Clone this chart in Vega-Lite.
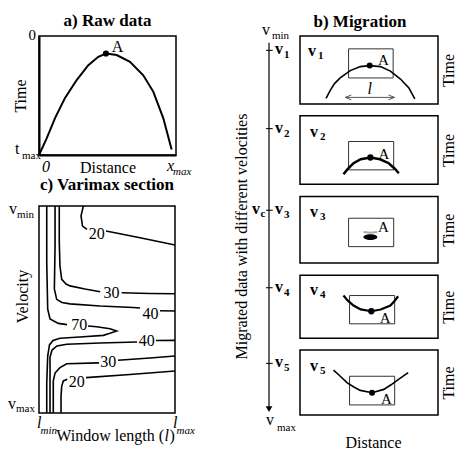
{
  "$schema": "https://vega.github.io/schema/vega-lite/v6.json",
  "background": "white",
  "padding": {"left": 7, "top": 11, "right": 2, "bottom": 2},
  "bounds": "flush",
  "spacing": 225,
  "config": {
    "font": "Liberation Serif",
    "view": {"stroke": "black", "strokeWidth": 1.5},
    "axis": {"grid": false, "ticks": false, "labels": false, "domain": false, "titleFontSize": 16, "titleFontWeight": "normal", "titleColor": "black"},
    "title": {"fontSize": 17, "fontWeight": "bold", "color": "black", "frame": "group", "anchor": "middle", "baseline": "alphabetic"},
    "text": {"color": "black", "fontSize": 16},
    "point": {"opacity": 1}
  },
  "hconcat": [
    {
      "bounds": "flush",
      "spacing": 51,
      "vconcat": [
        {
          "width": 137, "height": 119,
          "title": {"text": "a) Raw data", "offset": -2},
          "encoding": {
            "x": {"field": "d", "type": "quantitative", "scale": {"domain": [0, 1], "nice": false}, "axis": {"title": "Distance", "domain": true, "domainWidth": 2, "domainColor": "black", "titlePadding": 4}},
            "y": {"field": "t", "type": "quantitative", "scale": {"domain": [0, 1], "reverse": true, "nice": false}, "axis": {"title": "Time", "domain": true, "domainWidth": 2, "domainColor": "black", "titlePadding": 11}}
          },
          "layer": [
            {"data": {"values": [{"d":0,"t":1},{"d":0.056,"t":0.86},{"d":0.117,"t":0.69},{"d":0.19,"t":0.52},{"d":0.275,"t":0.37},{"d":0.36,"t":0.245},{"d":0.433,"t":0.175},{"d":0.489,"t":0.147},{"d":0.567,"t":0.16},{"d":0.664,"t":0.217},{"d":0.761,"t":0.33},{"d":0.834,"t":0.467},{"d":0.907,"t":0.69},{"d":0.968,"t":0.953}]},
             "mark": {"type": "line", "color": "black", "strokeWidth": 2}},
            {"data": {"values": [{"d": 0.489, "t": 0.147}]}, "mark": {"type": "point", "filled": true, "color": "black", "size": 38}},
            {"data": {"values": [{"d": 0.573, "t": 0.089, "s": "A"}]}, "mark": {"type": "text", "align": "center", "baseline": "middle"}, "encoding": {"text": {"field": "s"}}},
            {"data": {"values": [{"d": 0, "t": 0, "s": "0"}]}, "mark": {"type": "text", "align": "right", "baseline": "alphabetic", "dx": -3, "dy": 4, "fontSize": 15}, "encoding": {"text": {"field": "s"}}},
            {"data": {"values": [{"d": 0, "t": 1, "s": "t"}]}, "mark": {"type": "text", "align": "left", "baseline": "alphabetic", "dx": -24, "dy": -1}, "encoding": {"text": {"field": "s"}}},
            {"data": {"values": [{"d": 0, "t": 1, "s": "max"}]}, "mark": {"type": "text", "align": "left", "baseline": "alphabetic", "dx": -17, "dy": 4, "fontSize": 11}, "encoding": {"text": {"field": "s"}}},
            {"data": {"values": [{"d": 0, "t": 1, "s": "0"}]}, "mark": {"type": "text", "align": "left", "baseline": "alphabetic", "dx": 3, "dy": 17, "fontStyle": "italic"}, "encoding": {"text": {"field": "s"}}},
            {"data": {"values": [{"d": 1, "t": 1, "s": "x"}]}, "mark": {"type": "text", "align": "left", "baseline": "alphabetic", "dx": -9, "dy": 16, "fontStyle": "italic"}, "encoding": {"text": {"field": "s"}}},
            {"data": {"values": [{"d": 1, "t": 1, "s": "max"}]}, "mark": {"type": "text", "align": "left", "baseline": "alphabetic", "dx": -3, "dy": 20, "fontStyle": "italic", "fontSize": 11}, "encoding": {"text": {"field": "s"}}}
          ]
        },
        {
          "width": 136, "height": 207,
          "title": {"text": "c) Varimax section", "offset": 7},
          "encoding": {
            "x": {"field": "x", "type": "quantitative", "scale": {"domain": [0, 100], "nice": false}, "axis": null},
            "y": {"field": "y", "type": "quantitative", "scale": {"domain": [0, 100], "reverse": true, "nice": false}, "axis": {"title": "Velocity", "titlePadding": 9, "titleY": 90}}
          },
          "layer": [
            {"data": {"values": [
              {"s":"70a","i":0,"x":5.7,"y":0},{"s":"70a","i":1,"x":5.7,"y":27.5},{"s":"70a","i":2,"x":6.4,"y":49.8},{"s":"70a","i":3,"x":8.1,"y":54.6},{"s":"70a","i":4,"x":14.2,"y":56.7},{"s":"70a","i":5,"x":20.6,"y":57.3},
              {"s":"70b","i":0,"x":36.0,"y":58.0},{"s":"70b","i":1,"x":42.4,"y":58.3},{"s":"70b","i":2,"x":52.2,"y":59.3},{"s":"70b","i":3,"x":57.1,"y":60.4},{"s":"70b","i":4,"x":52.2,"y":61.5},{"s":"70b","i":5,"x":47.3,"y":62.5},{"s":"70b","i":6,"x":30.1,"y":63.3},{"s":"70b","i":7,"x":15.4,"y":63.9},{"s":"70b","i":8,"x":10.3,"y":65.0},{"s":"70b","i":9,"x":7.7,"y":67.1},{"s":"70b","i":10,"x":6.4,"y":72.5},{"s":"70b","i":11,"x":5.7,"y":85.4},{"s":"70b","i":12,"x":5.7,"y":100},
              {"s":"40a","i":0,"x":11.8,"y":0},{"s":"40a","i":1,"x":11.8,"y":19.3},{"s":"40a","i":2,"x":11.3,"y":40.1},{"s":"40a","i":3,"x":13.0,"y":45.1},{"s":"40a","i":4,"x":16.9,"y":46.6},{"s":"40a","i":5,"x":22.8,"y":47.3},{"s":"40a","i":6,"x":44.9,"y":48.3},{"s":"40a","i":7,"x":69.3,"y":49.0},{"s":"40a","i":8,"x":74.3,"y":49.3},
              {"s":"40b","i":0,"x":89.0,"y":50.6},{"s":"40b","i":1,"x":100,"y":50.7},
              {"s":"30a","i":0,"x":14.9,"y":0},{"s":"30a","i":1,"x":14.9,"y":16.9},{"s":"30a","i":2,"x":15.4,"y":29},{"s":"30a","i":3,"x":16.7,"y":35.4},{"s":"30a","i":4,"x":19.9,"y":37.7},{"s":"30a","i":5,"x":22.8,"y":38.6},{"s":"30a","i":6,"x":33.8,"y":40.1},{"s":"30a","i":7,"x":45,"y":41.4},
              {"s":"30b","i":0,"x":60.8,"y":41.9},{"s":"30b","i":1,"x":81.6,"y":42.3},{"s":"30b","i":2,"x":100,"y":42.4},
              {"s":"20a","i":0,"x":32.6,"y":0},{"s":"20a","i":1,"x":30.9,"y":4.8},{"s":"20a","i":2,"x":32.0,"y":9.7},{"s":"20a","i":3,"x":35.3,"y":11.3},
              {"s":"20b","i":0,"x":49.3,"y":12.1},{"s":"20b","i":1,"x":74.3,"y":15.3},{"s":"20b","i":2,"x":100,"y":18.8},
              {"s":"40c","i":0,"x":100,"y":64.9},{"s":"40c","i":1,"x":86.0,"y":65.0},
              {"s":"40d","i":0,"x":72.1,"y":65.7},{"s":"40d","i":1,"x":44.9,"y":66.2},{"s":"40d","i":2,"x":20.4,"y":66.8},{"s":"40d","i":3,"x":13.2,"y":67.6},{"s":"40d","i":4,"x":9.6,"y":69.6},{"s":"40d","i":5,"x":8.1,"y":72.9},{"s":"40d","i":6,"x":8.1,"y":84.5},{"s":"40d","i":7,"x":8.1,"y":100},
              {"s":"30c","i":0,"x":100,"y":72.5},{"s":"30c","i":1,"x":81.6,"y":73.4},{"s":"30c","i":2,"x":58.1,"y":74.5},
              {"s":"30d","i":0,"x":44.1,"y":75.8},{"s":"30d","i":1,"x":20.4,"y":76.2},{"s":"30d","i":2,"x":15.4,"y":78.1},{"s":"30d","i":3,"x":11.8,"y":80.7},{"s":"30d","i":4,"x":10.5,"y":84.5},{"s":"30d","i":5,"x":10.5,"y":100},
              {"s":"20c","i":0,"x":100,"y":79.7},{"s":"20c","i":1,"x":66.9,"y":81.4},{"s":"20c","i":2,"x":34.6,"y":82.9},
              {"s":"20d","i":0,"x":20.8,"y":83.7},{"s":"20d","i":1,"x":17.9,"y":84.5},{"s":"20d","i":2,"x":16.7,"y":87.0},{"s":"20d","i":3,"x":16.2,"y":91.8},{"s":"20d","i":4,"x":16.2,"y":100}
            ]},
             "mark": {"type": "line", "color": "black", "strokeWidth": 1.6},
             "encoding": {"detail": {"field": "s"}, "order": {"field": "i", "type": "quantitative"}}},
            {"data": {"values": [{"x":42.4,"y":13.7,"s":"20"},{"x":53.4,"y":42.2,"s":"30"},{"x":82.0,"y":52.2,"s":"40"},{"x":29.6,"y":57.5,"s":"70"},{"x":79.2,"y":65.2,"s":"40"},{"x":51.0,"y":75.4,"s":"30"},{"x":27.7,"y":85.0,"s":"20"}]},
             "mark": {"type": "text", "align": "center", "baseline": "middle"}, "encoding": {"text": {"field": "s"}}},
            {"data": {"values": [{"x": 0, "y": 0, "s": "v"}]}, "mark": {"type": "text", "align": "left", "baseline": "alphabetic", "dx": -30, "dy": 8}, "encoding": {"text": {"field": "s"}}},
            {"data": {"values": [{"x": 0, "y": 0, "s": "min"}]}, "mark": {"type": "text", "align": "left", "baseline": "alphabetic", "dx": -22, "dy": 12, "fontSize": 11}, "encoding": {"text": {"field": "s"}}},
            {"data": {"values": [{"x": 0, "y": 100, "s": "v"}]}, "mark": {"type": "text", "align": "left", "baseline": "alphabetic", "dx": -31, "dy": -4}, "encoding": {"text": {"field": "s"}}},
            {"data": {"values": [{"x": 0, "y": 100, "s": "max"}]}, "mark": {"type": "text", "align": "left", "baseline": "alphabetic", "dx": -23, "dy": -1, "fontSize": 11}, "encoding": {"text": {"field": "s"}}},
            {"data": {"values": [{"x": 0, "y": 100, "s": "l"}, {"x": 100, "y": 100, "s": "l"}]}, "mark": {"type": "text", "align": "left", "baseline": "alphabetic", "dx": -2, "dy": 15, "fontStyle": "italic"}, "encoding": {"text": {"field": "s"}}},
            {"data": {"values": [{"x": 0, "y": 100, "s": "min"}, {"x": 100, "y": 100, "s": "max"}]}, "mark": {"type": "text", "align": "left", "baseline": "alphabetic", "dx": 1.5, "dy": 21, "fontStyle": "italic", "fontSize": 11}, "encoding": {"text": {"field": "s"}}},
            {"data": {"values": [{"x": 92, "y": 100, "s": "Window length ("}]}, "mark": {"type": "text", "align": "right", "baseline": "alphabetic", "dy": 28}, "encoding": {"text": {"field": "s"}}},
            {"data": {"values": [{"x": 92, "y": 100, "s": "l"}]}, "mark": {"type": "text", "align": "left", "baseline": "alphabetic", "dx": 0.5, "dy": 28, "fontStyle": "italic"}, "encoding": {"text": {"field": "s"}}},
            {"data": {"values": [{"x": 92, "y": 100, "s": ")"}]}, "mark": {"type": "text", "align": "left", "baseline": "alphabetic", "dx": 5.5, "dy": 28}, "encoding": {"text": {"field": "s"}}}
          ]
        }
      ]
    },
    {
      "bounds": "flush",
      "spacing": 26,
      "hconcat": [
        {
          "width": 10, "height": 378,
          "view": {"stroke": null},
          "encoding": {
            "x": {"field": "a", "type": "quantitative", "scale": {"domain": [0, 1], "nice": false}, "axis": null},
            "y": {"field": "p", "type": "quantitative", "scale": {"domain": [0, 100], "reverse": true, "nice": false}, "axis": {"title": "Migrated data with different velocities", "titlePadding": 15, "titleY": 200}}
          },
          "layer": [
            {"data": {"values": [{"a": 0.5, "p": 1.8, "p2": 98.2}]}, "mark": {"type": "rule", "color": "black", "strokeWidth": 1.2}, "encoding": {"y2": {"field": "p2"}}},
            {"data": {"values": [{"a": 0.5, "p": 98.7}]}, "mark": {"type": "point", "shape": "triangle-down", "filled": true, "color": "black", "size": 45}},
            {"data": {"values": [{"a": 0.2, "a2": 0.87, "p": 3.8}, {"a": 0.2, "a2": 0.87, "p": 24.5}, {"a": 0.2, "a2": 0.87, "p": 46.1}, {"a": 0.2, "a2": 0.87, "p": 66.6}, {"a": 0.2, "a2": 0.87, "p": 86.6}]}, "mark": {"type": "rule", "color": "black", "strokeWidth": 1}, "encoding": {"x2": {"field": "a2"}}},
            {"data": {"values": [{"a": 0.5, "p": 3.8, "s": "v"}, {"a": 0.5, "p": 24.5, "s": "v"}, {"a": 0.5, "p": 46.1, "s": "v"}, {"a": 0.5, "p": 66.6, "s": "v"}, {"a": 0.5, "p": 86.6, "s": "v"}]}, "mark": {"type": "text", "align": "left", "baseline": "alphabetic", "dx": 6, "dy": 4, "fontWeight": "bold"}, "encoding": {"text": {"field": "s"}}},
            {"data": {"values": [{"a": 0.5, "p": 3.8, "s": "1"}, {"a": 0.5, "p": 24.5, "s": "2"}, {"a": 0.5, "p": 46.1, "s": "3"}, {"a": 0.5, "p": 66.6, "s": "4"}, {"a": 0.5, "p": 86.6, "s": "5"}]}, "mark": {"type": "text", "align": "left", "baseline": "alphabetic", "dx": 15, "dy": 8, "fontWeight": "bold", "fontSize": 11}, "encoding": {"text": {"field": "s"}}},
            {"data": {"values": [{"a": 0.5, "p": 46.1, "s": "v"}]}, "mark": {"type": "text", "align": "right", "baseline": "alphabetic", "dx": -9, "dy": 4, "fontWeight": "bold"}, "encoding": {"text": {"field": "s"}}},
            {"data": {"values": [{"a": 0.5, "p": 46.1, "s": "c"}]}, "mark": {"type": "text", "align": "left", "baseline": "alphabetic", "dx": -8.5, "dy": 7, "fontWeight": "bold", "fontSize": 11}, "encoding": {"text": {"field": "s"}}},
            {"data": {"values": [{"a": 0.5, "p": 1.8, "s": "v"}]}, "mark": {"type": "text", "align": "left", "baseline": "alphabetic", "dx": -7, "dy": -8}, "encoding": {"text": {"field": "s"}}},
            {"data": {"values": [{"a": 0.5, "p": 1.8, "s": "min"}]}, "mark": {"type": "text", "align": "left", "baseline": "alphabetic", "dx": 3, "dy": -3.5, "fontSize": 11}, "encoding": {"text": {"field": "s"}}},
            {"data": {"values": [{"a": 0.5, "p": 99.6, "s": "v"}]}, "mark": {"type": "text", "align": "left", "baseline": "alphabetic", "dx": -3, "dy": 13}, "encoding": {"text": {"field": "s"}}},
            {"data": {"values": [{"a": 0.5, "p": 99.6, "s": "max"}]}, "mark": {"type": "text", "align": "left", "baseline": "alphabetic", "dx": 8, "dy": 19, "fontSize": 11}, "encoding": {"text": {"field": "s"}}}
          ]
        },
        {
          "bounds": "flush",
          "spacing": 11.75,
          "vconcat": [
            {
              "width": 138, "height": 68,
              "title": {"text": "b) Migration", "offset": 5, "dx": -9},
              "encoding": {
                "x": {"field": "u", "type": "quantitative", "scale": {"domain": [0, 100], "nice": false}, "axis": null},
                "y": {"field": "w", "type": "quantitative", "scale": {"domain": [0, 100], "reverse": true, "nice": false}, "axis": {"orient": "right", "title": "Time", "titleAngle": 270, "titleBaseline": "top", "titlePadding": 2}}
              },
              "layer": [
                {"data": {"values": [{"u": 35.2, "u2": 67.5, "w": 18.9, "w2": 61.7}]}, "mark": {"type": "rect", "fill": "white", "fillOpacity": 0, "stroke": "#333", "strokeWidth": 1}, "encoding": {"x2": {"field": "u2"}, "y2": {"field": "w2"}}},
                {"data": {"values": [{"u":18.9,"w":91.7},{"u":21.8,"w":80.4},{"u":25,"w":70},{"u":29.1,"w":61.7},{"u":36.4,"w":50.9},{"u":43.7,"w":45},{"u":50.5,"w":43.5},{"u":58.3,"w":45},{"u":65.5,"w":51.6},{"u":72.8,"w":63.3},{"u":78.9,"w":76.4},{"u":83.2,"w":92.6}]}, "mark": {"type": "line", "color": "black", "strokeWidth": 1.6}},
                {"data": {"values": [{"u": 50.5, "w": 43.5}]}, "mark": {"type": "point", "filled": true, "color": "black", "size": 36}},
                {"data": {"values": [{"u": 60.5, "w": 34.7, "s": "A"}]}, "mark": {"type": "text", "align": "center", "baseline": "middle", "fontSize": 15}, "encoding": {"text": {"field": "s"}}},
                {"data": {"values": [{"u": 5.8, "w": 28.8, "s": "v"}]}, "mark": {"type": "text", "align": "left", "baseline": "alphabetic", "fontWeight": "bold"}, "encoding": {"text": {"field": "s"}}},
                {"data": {"values": [{"u": 5.8, "w": 28.8, "s": "1"}]}, "mark": {"type": "text", "align": "left", "baseline": "alphabetic", "fontWeight": "bold", "fontSize": 11, "dx": 10, "dy": 3}, "encoding": {"text": {"field": "s"}}},
                {"data": {"values": [{"u": 32.8, "u2": 68.5, "w": 90.3}]}, "mark": {"type": "rule", "color": "#555", "strokeWidth": 1}, "encoding": {"x2": {"field": "u2"}}},
                {"data": {"values": [{"u": 35, "w": 90.3}]}, "mark": {"type": "point", "shape": "M1,-0.8L-1,0L1,0.8", "filled": false, "color": "#555", "strokeWidth": 1, "size": 36}},
                {"data": {"values": [{"u": 66.3, "w": 90.3}]}, "mark": {"type": "point", "shape": "M-1,-0.8L1,0L-1,0.8", "filled": false, "color": "#555", "strokeWidth": 1, "size": 36}},
                {"data": {"values": [{"u": 50.6, "w": 77.4, "s": "l"}]}, "mark": {"type": "text", "align": "center", "baseline": "middle", "fontStyle": "italic"}, "encoding": {"text": {"field": "s"}}}
              ]
            },
            {
              "width": 138, "height": 68.5,
              "encoding": {
                "x": {"field": "u", "type": "quantitative", "scale": {"domain": [0, 100], "nice": false}, "axis": null},
                "y": {"field": "w", "type": "quantitative", "scale": {"domain": [0, 100], "reverse": true, "nice": false}, "axis": {"orient": "right", "title": "Time", "titleAngle": 270, "titleBaseline": "top", "titlePadding": 2}}
              },
              "layer": [
                {"data": {"values": [{"u": 35.2, "u2": 67.9, "w": 37.6, "w2": 79.0}]}, "mark": {"type": "rect", "fill": "white", "fillOpacity": 0, "stroke": "#333", "strokeWidth": 1}, "encoding": {"x2": {"field": "u2"}, "y2": {"field": "w2"}}},
                {"data": {"values": [{"u":31.5,"w":85.4},{"u":34.5,"w":78},{"u":38.8,"w":69.3},{"u":44,"w":63.5},{"u":51,"w":61},{"u":58,"w":63.5},{"u":64.3,"w":69.3},{"u":68.5,"w":77},{"u":71.6,"w":83.9}]}, "mark": {"type": "line", "color": "black", "strokeWidth": 2.5}},
                {"data": {"values": [{"u": 51, "w": 61}]}, "mark": {"type": "point", "filled": true, "color": "black", "size": 40}},
                {"data": {"values": [{"u": 60.8, "w": 55.5, "s": "A"}]}, "mark": {"type": "text", "align": "center", "baseline": "middle", "fontSize": 15}, "encoding": {"text": {"field": "s"}}},
                {"data": {"values": [{"u": 7.3, "w": 31.7, "s": "v"}]}, "mark": {"type": "text", "align": "left", "baseline": "alphabetic", "fontWeight": "bold"}, "encoding": {"text": {"field": "s"}}},
                {"data": {"values": [{"u": 7.3, "w": 31.7, "s": "2"}]}, "mark": {"type": "text", "align": "left", "baseline": "alphabetic", "fontWeight": "bold", "fontSize": 11, "dx": 10, "dy": 3}, "encoding": {"text": {"field": "s"}}}
              ]
            },
            {
              "width": 138, "height": 66.5,
              "encoding": {
                "x": {"field": "u", "type": "quantitative", "scale": {"domain": [0, 100], "nice": false}, "axis": null},
                "y": {"field": "w", "type": "quantitative", "scale": {"domain": [0, 100], "reverse": true, "nice": false}, "axis": {"orient": "right", "title": "Time", "titleAngle": 270, "titleBaseline": "top", "titlePadding": 2}}
              },
              "layer": [
                {"data": {"values": [{"u": 35.2, "u2": 67.9, "w": 32.7, "w2": 75.4}]}, "mark": {"type": "rect", "fill": "white", "fillOpacity": 0, "stroke": "#333", "strokeWidth": 1}, "encoding": {"x2": {"field": "u2"}, "y2": {"field": "w2"}}},
                {"data": {"values": [{"u": 46, "w": 53.5}, {"u": 51, "w": 54.5}, {"u": 56, "w": 53.5}]}, "mark": {"type": "line", "color": "#aaa", "strokeWidth": 2}},
                {"data": {"values": [{"u": 51, "w": 61}]}, "mark": {"type": "point", "shape": "M-1,0A1,0.42,0,1,1,1,0A1,0.42,0,1,1,-1,0Z", "filled": true, "color": "black", "size": 196}},
                {"data": {"values": [{"u": 60.5, "w": 45.7, "s": "A"}]}, "mark": {"type": "text", "align": "center", "baseline": "middle", "fontSize": 15}, "encoding": {"text": {"field": "s"}}},
                {"data": {"values": [{"u": 7.3, "w": 30.6, "s": "v"}]}, "mark": {"type": "text", "align": "left", "baseline": "alphabetic", "fontWeight": "bold"}, "encoding": {"text": {"field": "s"}}},
                {"data": {"values": [{"u": 7.3, "w": 30.6, "s": "3"}]}, "mark": {"type": "text", "align": "left", "baseline": "alphabetic", "fontWeight": "bold", "fontSize": 11, "dx": 10, "dy": 3}, "encoding": {"text": {"field": "s"}}}
              ]
            },
            {
              "width": 138, "height": 63,
              "encoding": {
                "x": {"field": "u", "type": "quantitative", "scale": {"domain": [0, 100], "nice": false}, "axis": null},
                "y": {"field": "w", "type": "quantitative", "scale": {"domain": [0, 100], "reverse": true, "nice": false}, "axis": {"orient": "right", "title": "Time", "titleAngle": 270, "titleBaseline": "top", "titlePadding": 2}}
              },
              "layer": [
                {"data": {"values": [{"u": 35.9, "u2": 68.6, "w": 32.2, "w2": 77.1}]}, "mark": {"type": "rect", "fill": "white", "fillOpacity": 0, "stroke": "#333", "strokeWidth": 1}, "encoding": {"x2": {"field": "u2"}, "y2": {"field": "w2"}}},
                {"data": {"values": [{"u":31.5,"w":32.2},{"u":34.5,"w":40},{"u":38.8,"w":48.1},{"u":44,"w":54.3},{"u":51.7,"w":57.1},{"u":58.5,"w":54.3},{"u":65.5,"w":48.1},{"u":68.5,"w":41},{"u":71.1,"w":33.3}]}, "mark": {"type": "line", "color": "black", "strokeWidth": 2.2}},
                {"data": {"values": [{"u": 51.7, "w": 57.1}]}, "mark": {"type": "point", "filled": true, "color": "black", "size": 40}},
                {"data": {"values": [{"u": 61.7, "w": 68.4, "s": "A"}]}, "mark": {"type": "text", "align": "center", "baseline": "middle", "fontSize": 15}, "encoding": {"text": {"field": "s"}}},
                {"data": {"values": [{"u": 7.3, "w": 31.4, "s": "v"}]}, "mark": {"type": "text", "align": "left", "baseline": "alphabetic", "fontWeight": "bold"}, "encoding": {"text": {"field": "s"}}},
                {"data": {"values": [{"u": 7.3, "w": 31.4, "s": "4"}]}, "mark": {"type": "text", "align": "left", "baseline": "alphabetic", "fontWeight": "bold", "fontSize": 11, "dx": 10, "dy": 3}, "encoding": {"text": {"field": "s"}}}
              ]
            },
            {
              "width": 138, "height": 65,
              "encoding": {
                "x": {"field": "u", "type": "quantitative", "scale": {"domain": [0, 100], "nice": false}, "axis": {"title": "Distance", "titlePadding": 19, "titleX": 73}},
                "y": {"field": "w", "type": "quantitative", "scale": {"domain": [0, 100], "reverse": true, "nice": false}, "axis": {"orient": "right", "title": "Time", "titleAngle": 270, "titleBaseline": "top", "titlePadding": 2}}
              },
              "layer": [
                {"data": {"values": [{"u": 35.9, "u2": 68.6, "w": 40.4, "w2": 84.5}]}, "mark": {"type": "rect", "fill": "white", "fillOpacity": 0, "stroke": "#333", "strokeWidth": 1}, "encoding": {"x2": {"field": "u2"}, "y2": {"field": "w2"}}},
                {"data": {"values": [{"u":24.3,"w":31.1},{"u":29,"w":40},{"u":34,"w":50.3},{"u":39,"w":57},{"u":43.7,"w":62.1},{"u":52.2,"w":65.8},{"u":60.7,"w":60.6},{"u":66,"w":53.5},{"u":70.4,"w":46.6},{"u":74.5,"w":40.5},{"u":78.4,"w":34.8}]}, "mark": {"type": "line", "color": "black", "strokeWidth": 1.6}},
                {"data": {"values": [{"u": 52.2, "w": 65.8}]}, "mark": {"type": "point", "filled": true, "color": "black", "size": 36}},
                {"data": {"values": [{"u": 62.6, "w": 76, "s": "A"}]}, "mark": {"type": "text", "align": "center", "baseline": "middle", "fontSize": 15}, "encoding": {"text": {"field": "s"}}},
                {"data": {"values": [{"u": 7.3, "w": 32.6, "s": "v"}]}, "mark": {"type": "text", "align": "left", "baseline": "alphabetic", "fontWeight": "bold"}, "encoding": {"text": {"field": "s"}}},
                {"data": {"values": [{"u": 7.3, "w": 32.6, "s": "5"}]}, "mark": {"type": "text", "align": "left", "baseline": "alphabetic", "fontWeight": "bold", "fontSize": 11, "dx": 10, "dy": 3}, "encoding": {"text": {"field": "s"}}}
              ]
            }
          ]
        }
      ]
    }
  ]
}
